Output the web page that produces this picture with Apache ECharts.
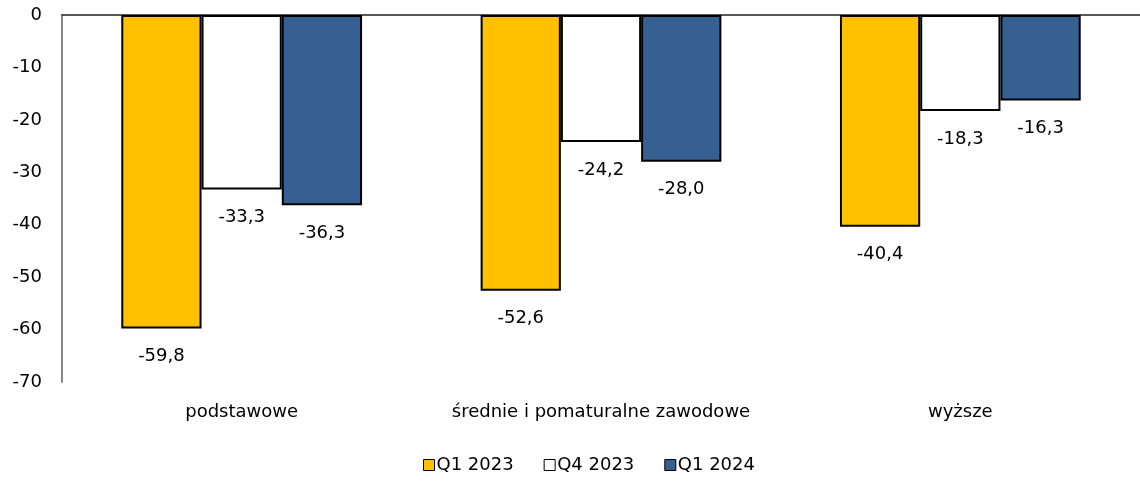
<!DOCTYPE html>
<html><head><meta charset="utf-8">
<script src="https://cdn.jsdelivr.net/npm/echarts@6/dist/echarts.min.js"></script>
<style>html,body{margin:0;padding:0;background:#fff}#c{width:1140px;height:483px}</style>
</head><body><div id="c"></div>
<script>
const categories = ['podstawowe', 'średnie i pomaturalne zawodowe', 'wyższe'];
const seriesNames = ['Q1 2023', 'Q4 2023', 'Q1 2024'];
const q1_2023 = [-59.8, -52.6, -40.4];
const q4_2023 = [-33.3, -24.2, -18.3];
const q1_2024 = [-36.3, -28.0, -16.3];
const colors = ['#FFC000', '#FFFFFF', '#376092'];
const FONT = 'DejaVu Sans';
const FS = 18;

const chart = echarts.init(document.getElementById('c'));
const mk = (name, data, color) => ({
  name, type: 'bar', data, barGap: '0%', barCategoryGap: '33%',
  xAxisIndex: 0,
  itemStyle: { color, borderColor: '#000', borderWidth: 2 },
  label: { show: true, position: 'bottom', distance: 19, color: '#000', fontFamily: FONT, fontSize: FS,
    formatter: p => p.value.toFixed(1).replace('.', ',') }
});
chart.setOption({
  animation: false,
  textStyle: { fontFamily: FONT },
  grid: { left: 62, right: 0, top: 15, bottom: 101, containLabel: false },
  legend: {
    bottom: 4, left: 418, icon: 'rect', itemWidth: 11, itemHeight: 11, itemGap: 30,
    textStyle: { fontFamily: FONT, fontSize: FS, color: '#000', padding: [0, 0, 0, -3] },
    itemStyle: { borderColor: '#000', borderWidth: 1 },
    data: seriesNames
  },
  xAxis: [
    { type: 'category', data: categories, position: 'bottom',
      axisLine: { show: false, onZero: false }, axisTick: { show: false },
      axisLabel: { interval: 0, margin: 21, color: '#000', fontFamily: FONT, fontSize: FS } },
    { type: 'category', data: categories, position: 'top',
      axisLine: { show: true, onZero: false, lineStyle: { color: '#222', width: 1.5 } },
      axisTick: { show: false }, axisLabel: { show: false } }
  ],
  yAxis: {
    type: 'value', min: -70, max: 0, interval: 10,
    axisLine: { show: true, lineStyle: { color: '#888', width: 2 } },
    axisTick: { show: false }, splitLine: { show: false },
    axisLabel: { margin: 20, color: '#000', fontFamily: FONT, fontSize: FS }
  },
  series: [mk(seriesNames[0], q1_2023, colors[0]), mk(seriesNames[1], q4_2023, colors[1]), mk(seriesNames[2], q1_2024, colors[2])]
});
</script></body></html>
